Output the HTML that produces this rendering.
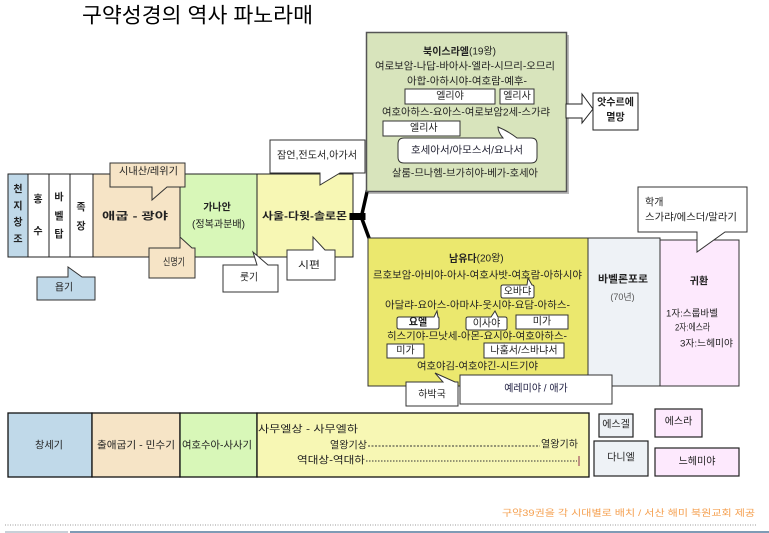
<!DOCTYPE html>
<html><head><meta charset="utf-8"><style>
html,body{margin:0;padding:0;background:#fff;width:769px;height:533px;overflow:hidden}
svg{display:block;font-family:"Liberation Sans","Noto Sans CJK KR","NanumGothic",sans-serif}
</style></head><body>
<svg width="769" height="533" viewBox="0 0 769 533" xmlns="http://www.w3.org/2000/svg">
<g dominant-baseline="central" fill="#222">
<!-- Title -->
<text x="82" y="16" font-size="21" fill="#000" textLength="231" lengthAdjust="spacingAndGlyphs">구약성경의 역사 파노라매</text>

<!-- Main row -->
<g stroke="#222" stroke-width="1">
<rect x="8" y="174" width="20" height="83" fill="#c0d9e9"/>
<rect x="28" y="174" width="21" height="83" fill="#fff"/>
<rect x="49" y="174" width="21" height="83" fill="#fff"/>
<rect x="70" y="174" width="23" height="83" fill="#fff"/>
<rect x="93" y="174" width="87" height="83" fill="#f6e4c6"/>
<rect x="180" y="174" width="77" height="83" fill="#d8f7b8"/>
<rect x="257" y="174" width="96" height="83" fill="#f7f7b4"/>
</g>
<g font-size="10" font-weight="bold" text-anchor="middle">
<text x="18" y="190">천</text><text x="18" y="207">지</text><text x="18" y="223">창</text><text x="18" y="240">조</text>
<text x="38" y="200">홍</text><text x="38" y="232">수</text>
<text x="59" y="198">바</text><text x="59" y="217">벨</text><text x="59" y="235">탑</text>
<text x="81" y="208">족</text><text x="81" y="227">장</text>
</g>
<text x="102" y="217" font-size="10" font-weight="bold" textLength="66" lengthAdjust="spacingAndGlyphs">애굽  -  광야</text>
<text x="217" y="208" font-size="10" font-weight="bold" text-anchor="middle">가나안</text>
<text x="192" y="225" font-size="10" textLength="53" lengthAdjust="spacingAndGlyphs">(정복과분배)</text>
<text x="262" y="217" font-size="10" font-weight="bold" textLength="85" lengthAdjust="spacingAndGlyphs">사울-다윗-솔로몬</text>

<!-- Callouts main row -->
<g stroke="#333" stroke-width="1">
<polygon points="110,163 185,163 185,187 167,187 152,200 152,187 110,187" fill="#f6e4c6"/>
<polygon points="149,248 180,248 180,237 192,248 195,248 195,278 149,278" fill="#f6e4c6"/>
<polygon points="223,265 257,265 253,252 268,265 278,265 278,292 223,292" fill="#fff"/>
<polygon points="287,250 313,250 313,237 325,250 335,250 335,280 287,280" fill="#fff"/>
<polygon points="270,140 365,140 365,173 340,173 320,185 320,173 270,173" fill="#fff"/>
<polygon points="37,277 68,277 68,267 82,277 95,277 95,300 37,300" fill="#c0d9e9"/>
</g>
<text x="119" y="172" font-size="10" textLength="59" lengthAdjust="spacingAndGlyphs">시내산/레위기</text>
<text x="163" y="263" font-size="10" textLength="22" lengthAdjust="spacingAndGlyphs">신명기</text>
<text x="240" y="278" font-size="10" textLength="18" lengthAdjust="spacingAndGlyphs">룻기</text>
<text x="298" y="266" font-size="10" textLength="22" lengthAdjust="spacingAndGlyphs">시편</text>
<text x="277" y="156" font-size="10" textLength="80" lengthAdjust="spacingAndGlyphs">잠언,전도서,아가서</text>
<text x="55" y="288" font-size="10" textLength="18" lengthAdjust="spacingAndGlyphs">욥기</text>

<!-- Junction -->
<g stroke="#000" fill="none" stroke-linecap="square">
<line x1="353" y1="216.5" x2="362" y2="216.5" stroke-width="7"/>
<line x1="362" y1="214" x2="367" y2="192" stroke-width="3.5"/>
<line x1="362" y1="219" x2="369" y2="238" stroke-width="3.5"/>
</g>

<!-- North Israel -->
<rect x="369" y="35" width="200" height="159" fill="#bbb"/>
<rect x="366.5" y="32.5" width="200" height="159" fill="#d8e4bc" stroke="#555" stroke-width="1.5"/>
<text x="423" y="52" font-size="10"><tspan font-weight="bold">북이스라엘</tspan>(19왕)</text>
<text x="375" y="67" font-size="10" textLength="180" lengthAdjust="spacingAndGlyphs">여로보암-나답-바아사-엘라-시므리-오므리</text>
<text x="407" y="82" font-size="10" textLength="120" lengthAdjust="spacingAndGlyphs">아합-아하시야-여호람-예후-</text>
<g stroke="#333" stroke-width="1" fill="#fff">
<rect x="405" y="89" width="90" height="15"/>
<rect x="500" y="89" width="34" height="15"/>
</g>
<text x="450" y="96.5" font-size="10" text-anchor="middle">엘리야</text>
<text x="517" y="96.5" font-size="10" text-anchor="middle">엘리사</text>
<text x="382" y="113" font-size="10" textLength="168" lengthAdjust="spacingAndGlyphs">여호아하스-요아스-여로보암2세-스가랴</text>
<rect x="383" y="121" width="77" height="15" fill="#fff" stroke="#333"/>
<text x="410" y="128.5" font-size="10">엘리사</text>
<path d="M404,138 L503,138 Q498,132 498,127 Q508,131 517,138 L531,138 Q537,138 537,144 L537,157 Q537,163 531,163 L404,163 Q398,163 398,157 L398,144 Q398,138 404,138 Z" fill="#fff" stroke="#333"/>
<text x="467" y="151" font-size="10" text-anchor="middle" fill="#223" textLength="112" lengthAdjust="spacingAndGlyphs">호세아서/아모스서/요나서</text>
<text x="392" y="174" font-size="10" textLength="146" lengthAdjust="spacingAndGlyphs">살룸-므나헴-브가히야-베가-호세아</text>

<!-- Arrow -->
<polygon points="566,104 582,104 582,94 593,109 582,123 582,118 566,118" fill="#fff" stroke="#222"/>
<rect x="593" y="93" width="45" height="37" fill="#fff" stroke="#222"/>
<text x="615.5" y="103" font-size="10" font-weight="bold" text-anchor="middle">앗수르에</text>
<text x="615.5" y="118" font-size="10" font-weight="bold" text-anchor="middle">멸망</text>

<!-- South Judah, Babylon, Return -->
<rect x="368" y="238" width="220" height="148" fill="#ebe86e" stroke="#333"/>
<rect x="588" y="238" width="72" height="148" fill="#eef2f6" stroke="#333"/>
<rect x="660" y="240" width="79" height="146" fill="#fde9fd" stroke="#333"/>
<text x="449" y="259" font-size="10"><tspan font-weight="bold">남유다</tspan>(20왕)</text>
<text x="373" y="276" font-size="10" textLength="209" lengthAdjust="spacingAndGlyphs">르호보암-아비야-아사-여호사밧-여호람-아하시야</text>
<text x="385" y="306" font-size="10" textLength="185" lengthAdjust="spacingAndGlyphs">아달랴-요아스-아마샤-웃시야-요담-아하스-</text>
<text x="387" y="337" font-size="10" textLength="180" lengthAdjust="spacingAndGlyphs">히스기야-므낫세-아몬-요시야-여호아하스-</text>
<text x="417" y="367" font-size="10" textLength="121" lengthAdjust="spacingAndGlyphs">여호야김-여호야긴-시드기야</text>
<g stroke="#333" fill="#fff">
<path d="M503,285 L527,285 L528,278 L532,285 L532,285 Q534,285 534,287 L534,296 Q534,298 532,298 L503,298 Q501,298 501,296 L501,287 Q501,285 503,285 Z"/>
<path d="M399,317 L434,317 L437,311 L438,317 Q439,317 439,319 L439,327 Q439,329 437,329 L399,329 Q397,329 397,327 L397,319 Q397,317 399,317 Z"/>
<path d="M468,317 L491,317 L495,311 L498,317 L505,317 Q507,317 507,319 L507,328 Q507,330 505,330 L468,330 Q466,330 466,328 L466,319 Q466,317 468,317 Z"/>
<rect x="516" y="315" width="52" height="14"/>
<rect x="387" y="344" width="37" height="14"/>
<rect x="484" y="343" width="80" height="15"/>
<polygon points="406,382 443,382 435,373 455,382 458,382 458,406 406,406"/>
<rect x="460" y="375" width="152" height="29"/>
</g>
<text x="517.5" y="292" font-size="10" text-anchor="middle">오바댜</text>
<text x="418" y="323" font-size="10" text-anchor="middle" font-weight="bold">요엘</text>
<text x="486.5" y="324" font-size="10" text-anchor="middle">이사야</text>
<text x="542" y="322" font-size="10" text-anchor="middle">미가</text>
<text x="405.5" y="351" font-size="10" text-anchor="middle">미가</text>
<text x="524" y="351" font-size="10" text-anchor="middle">나훔서/스바냐서</text>
<text x="432" y="395" font-size="10" text-anchor="middle">하박국</text>
<text x="536" y="389" font-size="10" text-anchor="middle" fill="#224">예레미야 / 애가</text>

<text x="598" y="280" font-size="10" font-weight="bold" textLength="50" lengthAdjust="spacingAndGlyphs">바벨론포로</text>
<text x="622.5" y="297" font-size="9" text-anchor="middle" fill="#555">(70년)</text>
<text x="699" y="282" font-size="10" font-weight="bold" text-anchor="middle">귀환</text>
<text x="666" y="314" font-size="9.5" textLength="52" lengthAdjust="spacingAndGlyphs">1자:스룹바벨</text>
<text x="675" y="328" font-size="9.5" textLength="35" lengthAdjust="spacingAndGlyphs">2자:에스라</text>
<text x="680" y="344" font-size="9.5" textLength="53" lengthAdjust="spacingAndGlyphs">3자:느헤미야</text>
<polygon points="638,187 747,187 747,232 725,232 697,252 697,232 638,232" fill="#fff" stroke="#333"/>
<text x="645" y="203" font-size="10">학개</text>
<text x="645" y="218" font-size="10" textLength="92" lengthAdjust="spacingAndGlyphs">스가랴/에스더/말라기</text>

<!-- Bottom row -->
<g stroke="#111" stroke-width="1.3">
<rect x="8" y="413" width="84" height="64" fill="#c0d9e9"/>
<rect x="92" y="413" width="88" height="64" fill="#f6e4c6"/>
<rect x="180" y="413" width="77" height="64" fill="#d8f7b8"/>
<rect x="257" y="413" width="332" height="64" fill="#f7f7b4"/>
</g>
<text x="35" y="446" font-size="10" textLength="28" lengthAdjust="spacingAndGlyphs">창세기</text>
<text x="97" y="446" font-size="10" textLength="78" lengthAdjust="spacingAndGlyphs">출애굽기 - 민수기</text>
<text x="182" y="446" font-size="10" textLength="70" lengthAdjust="spacingAndGlyphs">여호수아-사사기</text>
<text x="258" y="430" font-size="10" textLength="100" lengthAdjust="spacingAndGlyphs">사무엘상  -  사무엘하</text>
<text x="330" y="446" font-size="10" textLength="37" lengthAdjust="spacingAndGlyphs">열왕기상</text>
<line x1="368" y1="446" x2="540" y2="446" stroke="#333" stroke-width="1" stroke-dasharray="2,1.5"/>
<text x="541" y="445" font-size="10" textLength="37" lengthAdjust="spacingAndGlyphs">열왕기하</text>
<text x="297" y="461" font-size="10" textLength="68" lengthAdjust="spacingAndGlyphs">역대상-역대하</text>
<line x1="366" y1="461" x2="577" y2="461" stroke="#333" stroke-width="1" stroke-dasharray="1.5,1.5"/>
<line x1="579" y1="456" x2="579" y2="466" stroke="#a05060" stroke-width="1.2"/>

<g stroke="#222" stroke-width="1.2">
<rect x="599" y="414" width="34" height="23" fill="#eef2f6"/>
<rect x="594" y="441" width="54" height="35" fill="#eef2f6"/>
<rect x="655" y="409" width="47" height="28" fill="#fde9fd"/>
<rect x="655" y="448" width="84" height="28" fill="#fde9fd"/>
</g>
<text x="616" y="425" font-size="10" text-anchor="middle">에스겔</text>
<text x="621" y="458" font-size="10" text-anchor="middle">다니엘</text>
<text x="678.5" y="422" font-size="10" text-anchor="middle">에스라</text>
<text x="697" y="462" font-size="10" text-anchor="middle">느헤미야</text>

<!-- Footer -->
<text x="502" y="513" font-size="9" fill="#f5a050" textLength="253" lengthAdjust="spacingAndGlyphs">구약39권을 각 시대별로 배치 / 서산 해미 북원교회 제공</text>
<line x1="5" y1="525" x2="757" y2="525" stroke="#999" stroke-width="1" stroke-dasharray="1,1.5"/>
<line x1="5" y1="532" x2="68" y2="532" stroke="#c8d0d8" stroke-width="2"/>
<line x1="70" y1="532" x2="769" y2="532" stroke="#7f9bb5" stroke-width="2"/>
</g>
</svg>
</body></html>
